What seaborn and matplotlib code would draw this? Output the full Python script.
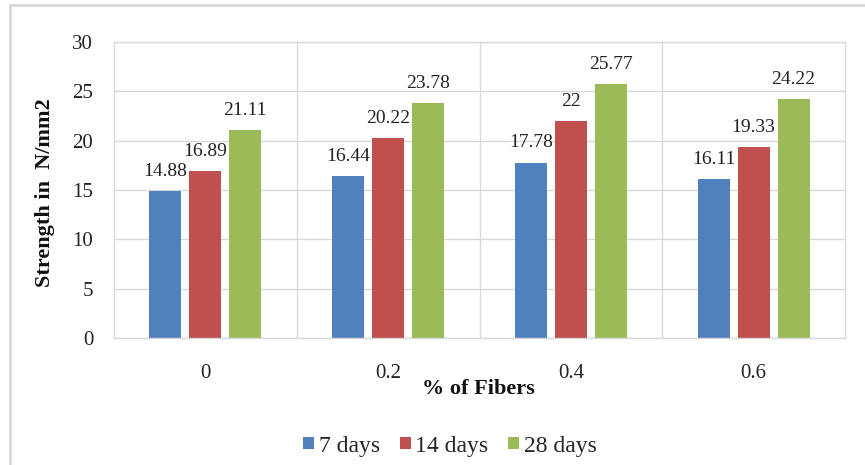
import matplotlib
matplotlib.use("Agg")
from matplotlib import pyplot as plt
from matplotlib.patches import Rectangle
from matplotlib.ticker import FixedLocator
import pandas as pd
import seaborn as sns

# data
fibers = ["0", "0.2", "0.4", "0.6"]
days_7 = [14.88, 16.44, 17.78, 16.11]
days_14 = [16.89, 20.22, 22, 19.33]
days_28 = [21.11, 23.78, 25.77, 24.22]
ages = ["7 days", "14 days", "28 days"]
colors = ["#4F81BD", "#C0504D", "#9BBB59"]

df = pd.DataFrame({
    "fiber": fibers * 3,
    "strength": days_7 + days_14 + days_28,
    "age": [a for a in ages for _ in fibers],
})

sns.set_style("white")
plt.rcParams["font.family"] = ["Liberation Serif", "DejaVu Serif"]

fig = plt.figure(figsize=(8.65, 4.65), dpi=100)
ax = fig.add_axes([114 / 865, 127 / 465, 731 / 865, 296 / 465])

sns.barplot(data=df, x="fiber", y="strength", hue="age", order=fibers,
            hue_order=ages, palette=colors, saturation=1, width=0.656,
            gap=0.2, linewidth=0, ax=ax, legend=True)

# value labels above bars
for cont in ax.containers:
    ax.bar_label(cont, labels=["%g" % v.get_height() for v in cont],
                 padding=8, fontsize=14, color="#222222")

ax.set_ylim(0, 30)
ax.set_yticks(range(0, 31, 5))
ax.set_xlim(-0.5, 3.5)
ax.xaxis.set_minor_locator(FixedLocator([0.5, 1.5, 2.5]))
ax.grid(axis="y", which="major", color="#d9d9d9", lw=1)
ax.grid(axis="x", which="minor", color="#d9d9d9", lw=1)
ax.grid(axis="x", which="major", visible=False)
ax.set_axisbelow(True)
for sp in ax.spines.values():
    sp.set_visible(True)
    sp.set_color("#d9d9d9")
    sp.set_linewidth(1)
ax.tick_params(axis="both", which="both", length=0, labelsize=15,
               labelcolor="#222222")
ax.tick_params(axis="x", pad=19)
ax.tick_params(axis="y", pad=15)

ax.set_xlabel("% of Fibers", fontsize=16, fontweight="bold", color="#111111")
ax.xaxis.set_label_coords(0.498, -0.137)
ax.set_ylabel("Strength in  N/mm2", fontsize=16, fontweight="bold",
              color="#111111")
ax.yaxis.set_label_coords(-0.081, 0.49)

handles, labels = ax.get_legend_handles_labels()
ax.get_legend().remove()
fig.legend(handles, labels, loc="center", ncol=3,
           bbox_to_anchor=(450 / 865, 1 - 446 / 465), frameon=False,
           fontsize=17, handlelength=0.45, handleheight=0.45,
           handletextpad=0.2, columnspacing=0.85)

# light outer border of the chart area
fig.patches.append(Rectangle((9.5 / 865, -0.1), 1.2, (460 / 465) + 0.1,
                             transform=fig.transFigure, fill=False,
                             edgecolor="#d9d9d9", lw=2))

fig.savefig("out.png", dpi=100)
